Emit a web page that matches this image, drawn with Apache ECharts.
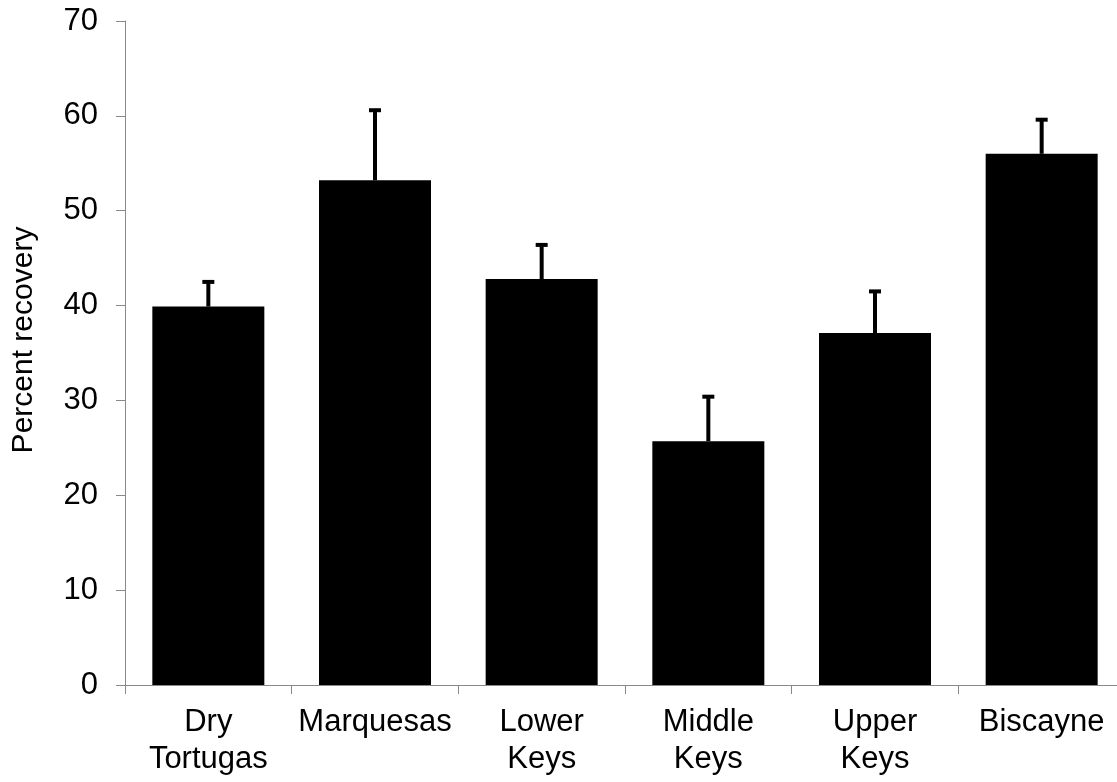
<!DOCTYPE html>
<html>
<head>
<meta charset="utf-8">
<script src="https://cdn.jsdelivr.net/npm/echarts@6/dist/echarts.min.js"></script>
<style>html,body{margin:0;padding:0;background:#fff;}#c{width:1117px;height:782px;}</style>
</head>
<body>
<div id="c"></div>
<script>
const categories = ['Dry\nTortugas', 'Marquesas', 'Lower\nKeys', 'Middle\nKeys', 'Upper\nKeys', 'Biscayne'];
const recovery = [39.9, 53.2, 42.8, 25.7, 37.1, 56.0];
const errorTop = [42.6, 60.7, 46.5, 30.5, 41.6, 59.7];
const yTicks = {min: 0, max: 70, interval: 10};

const chart = echarts.init(document.getElementById('c'), null, {renderer: 'canvas'});
const axisGray = '#898989';
const font = 'Liberation Sans, Arial, sans-serif';

chart.setOption({
  animation: false,
  backgroundColor: '#fff',
  grid: {left: 125, top: 21, bottom: 97, right: -8, containLabel: false, outerBoundsMode: 'none'},
  xAxis: {
    type: 'category',
    data: categories,
    axisLine: {show: true, lineStyle: {color: axisGray, width: 1}},
    axisTick: {show: true, alignWithLabel: false, inside: false, length: 9, lineStyle: {color: axisGray}},
    axisLabel: {color: '#000', fontSize: 31, fontFamily: font, lineHeight: 37, margin: 19, interval: 0},
    splitLine: {show: false}
  },
  yAxis: {
    type: 'value',
    min: yTicks.min, max: yTicks.max, interval: yTicks.interval,
    name: 'Percent recovery',
    nameLocation: 'middle',
    nameGap: 86,
    nameRotate: 90,
    nameTextStyle: {color: '#000', fontSize: 30, fontFamily: font, padding: [0, 0, 0, 26]},
    axisLine: {show: true, lineStyle: {color: axisGray, width: 1}},
    axisTick: {show: true, length: 9, lineStyle: {color: axisGray}},
    axisLabel: {color: '#000', fontSize: 31, fontFamily: font, margin: 27},
    splitLine: {show: false}
  },
  series: [
    {
      type: 'bar',
      data: recovery,
      barWidth: 112,
      itemStyle: {color: '#000'},
      z: 2
    },
    {
      type: 'custom',
      z: 3,
      data: recovery.map((v, i) => [i, v, errorTop[i]]),
      renderItem: function (params, api) {
        const x = api.value(0);
        const base = api.coord([x, api.value(1)]);
        const top = api.coord([x, api.value(2)]);
        const cx = base[0];
        return {
          type: 'group',
          children: [
            {type: 'rect', shape: {x: cx - 2, y: top[1], width: 4, height: base[1] - top[1]}, style: {fill: '#000'}},
            {type: 'rect', shape: {x: cx - 6, y: top[1] - 1, width: 12, height: 4}, style: {fill: '#000'}}
          ]
        };
      }
    }
  ]
});
</script>
</body>
</html>
